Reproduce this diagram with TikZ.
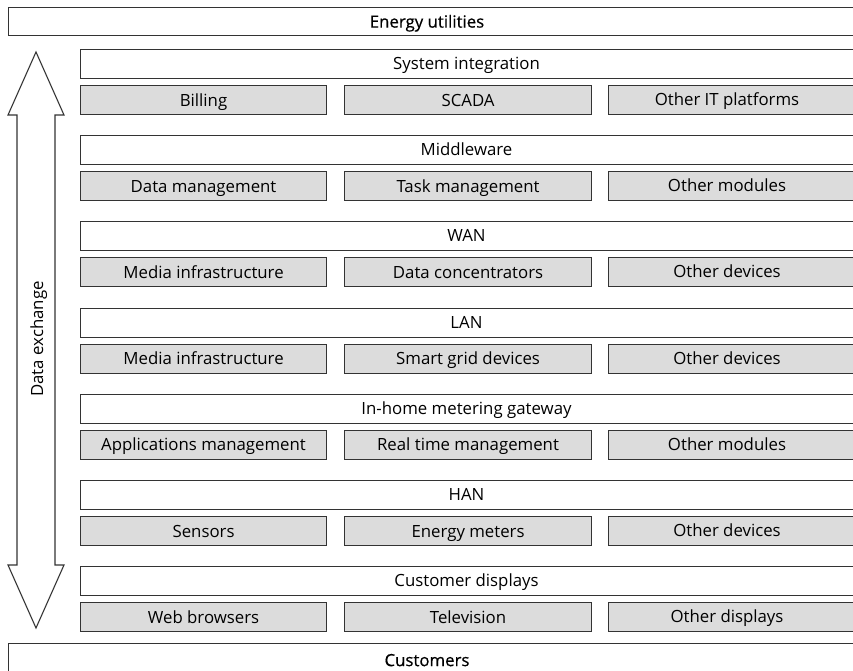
\documentclass[tikz,border=0pt]{standalone}
\usepackage{fontspec}
\setmainfont{Open Sans}
\newfontfamily\titlefont[FakeBold=0.5]{Open Sans}
\definecolor{linec}{HTML}{333333}
\definecolor{cellfill}{HTML}{DCDCDC}
\tikzset{
  every node/.style={font=\fontsize{16.8}{19}\selectfont, text=black,
    text height=14pt, text depth=1.8pt},
  layerbox/.style={draw=linec, line width=1.1pt, fill=white, inner sep=0pt,
    minimum height=29pt, anchor=north west},
  cellbox/.style={draw=linec, line width=1.1pt, fill=cellfill, inner sep=0pt,
    minimum height=29pt, anchor=north west},
  endbox/.style={draw=linec, line width=1.1pt, fill=white, inner sep=0pt,
    anchor=north west},
}
\begin{document}
\begin{tikzpicture}[x=1pt,y=-1pt]
\useasboundingbox (0,0) rectangle (853,671);
\clip (0,0) rectangle (853,671);

% outer end points of the stack
\node[endbox, minimum width=860pt, minimum height=28pt] (utilities) at (8,7) {};
\node at (427,21.5) {\titlefont Energy utilities};
\node[endbox, minimum width=860pt, minimum height=40pt] (customers) at (8,643) {};
\node at (427,660) {\titlefont Customers};

% bidirectional data exchange arrow
\draw[linec, line width=1.1pt, line join=miter]
  (36,52) -- (64,115) -- (55,115) -- (55,565) -- (64,565) -- (36,628)
  -- (8,565) -- (17,565) -- (17,115) -- (8,115) -- cycle;
\node[rotate=90] (exchange) at (37,339) {Data exchange};

% layers: title, then three components
\foreach \k/\title/\ca/\cb/\cc in {
  0/System integration/Billing/SCADA/Other IT platforms,
  1/Middleware/Data management/Task management/Other modules,
  2/WAN/Media infrastructure/Data concentrators/Other devices,
  3/LAN/Media infrastructure/Smart grid devices/Other devices,
  4/In-home metering gateway/Applications management/Real time management/Other modules,
  5/HAN/Sensors/Energy meters/Other devices,
  6/Customer displays/Web browsers/Television/Other displays}{
  \pgfmathsetmacro{\t}{49+86.17*\k}
  \node[layerbox, minimum width=790pt] (layer\k) at (80,\t) {};
  \node at (466.5,\t+14.5) {\title};
  \node[cellbox, minimum width=246pt] (cellA\k) at (80,\t+36) {\ca};
  \node[cellbox, minimum width=247pt] (cellB\k) at (344,\t+36) {\cb};
  \node[cellbox, minimum width=260pt] (cellC\k) at (608,\t+36) {};
  \node at (727,\t+50.5) {\cc};
}
\end{tikzpicture}
\end{document}
